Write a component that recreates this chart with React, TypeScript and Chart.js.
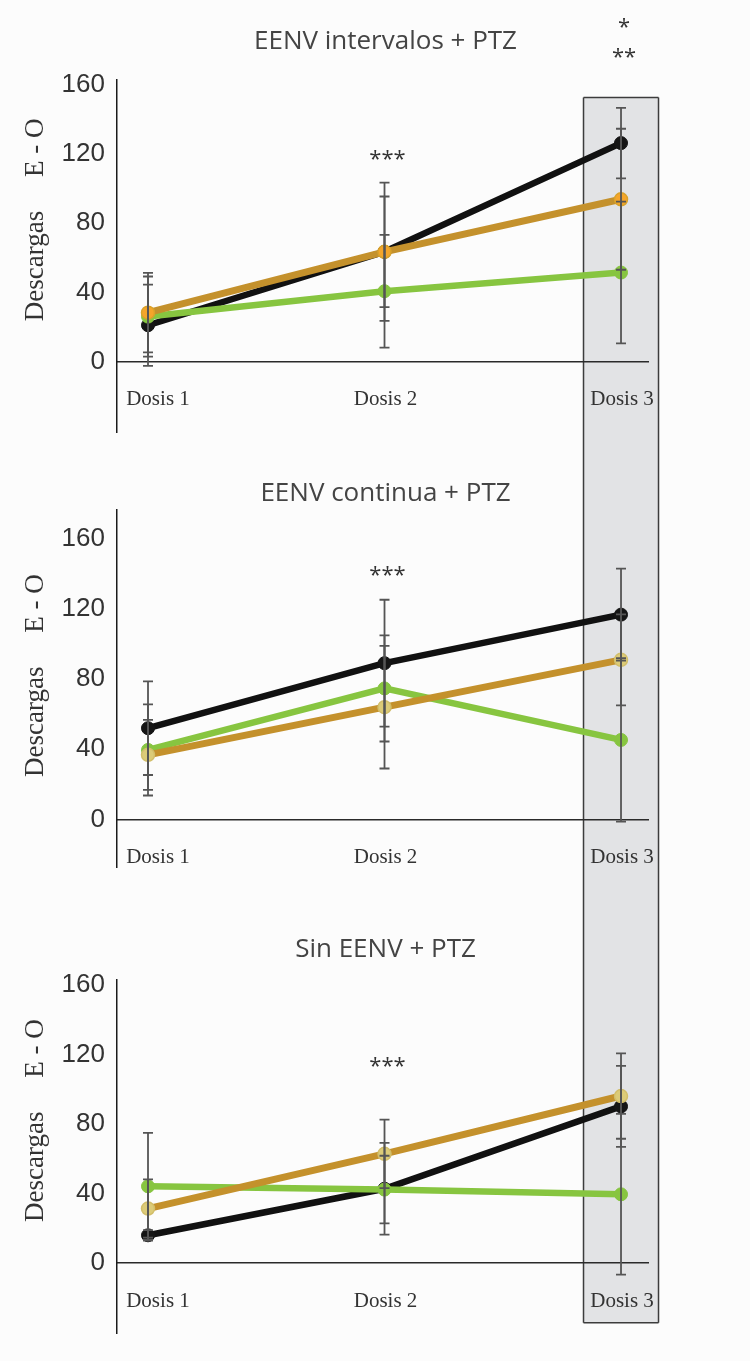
import React, { useEffect, useRef } from 'react';
import { Chart, registerables } from 'chart.js';

Chart.register(...registerables);

// ---------- data ----------
const categories = ['Dosis 1', 'Dosis 2', 'Dosis 3'];
const xValues = [1, 2, 3];
const yTickValues = [0, 40, 80, 120, 160];
const panelTitles = ['EENV intervalos + PTZ', 'EENV continua + PTZ', 'Sin EENV + PTZ'];
const yAxisTitle = 'Descargas     E - O';

// Panel 1: EENV intervalos + PTZ
const p1Black = [21, 63.5, 126.4];
const p1BlackErr = [23.5, 40, 20.4];
const p1Orange = [28.3, 63.5, 93.9];
const p1OrangeErr = [23, 32, 40.8];
const p1Green = [26, 40.7, 51.5];
const p1GreenErr = [23.2, 32.6, 41];
const p1Sig = [
  { text: '***', x: 2, y: 117 },
  { text: '*', x: 3, y: 193 },
  { text: '**', x: 3, y: 176 },
];

// Panel 2: EENV continua + PTZ
const p2Black = [52, 89.1, 116.8];
const p2BlackErr = [26.7, 36.2, 26.2];
const p2Orange = [36.8, 64, 91];
const p2OrangeErr = [20, 35, 26];
const p2Green = [39.6, 74.7, 45.3];
const p2GreenErr = [26, 30.3, 46.6];
const p2Sig = [{ text: '***', x: 2, y: 139 }];

// Panel 3: Sin EENV + PTZ
const p3Black = [16, 42.8, 90.2];
const p3BlackErr = [3, 26.4, 23.3];
const p3Orange = [31.4, 62.9, 96.2];
const p3OrangeErr = [16.8, 19.7, 24.6];
const p3Green = [44.2, 42.3, 39.6];
const p3GreenErr = [30.8, 19.5, 46.3];
const p3Sig = [{ text: '***', x: 2, y: 113 }];

const highlightCategory = 3;

// ---------- styles / layout ----------
const BLACK = '#111111';
const ORANGE_LINE = '#C4912C';
const GREEN = '#87C540';
const ERR = '#555555';
const TEXT = '#333333';

const panels = [
  {
    title: panelTitles[0], height: 460, top: 80, bottom: 22, yMin: -41, yMax: 162.9, titleY: 42,
    black: p1Black, blackErr: p1BlackErr, orange: p1Orange, orangeErr: p1OrangeErr,
    green: p1Green, greenErr: p1GreenErr, sig: p1Sig,
    orangePoint: '#F5A52A', orangePointBorder: '#D9A22A',
    boxTop: 152.8, boxBottom: null,
  },
  {
    title: panelTitles[1], height: 440, top: 50, bottom: 33, yMin: -27.2, yMax: 176.5, titleY: 34,
    black: p2Black, blackErr: p2BlackErr, orange: p2Orange, orangeErr: p2OrangeErr,
    green: p2Green, greenErr: p2GreenErr, sig: p2Sig,
    orangePoint: '#DCCB78', orangePointBorder: '#D2BE6A',
    boxTop: null, boxBottom: null,
  },
  {
    title: panelTitles[2], height: 461, top: 80, bottom: 24, yMin: -40.5, yMax: 163, titleY: 50,
    black: p3Black, blackErr: p3BlackErr, orange: p3Orange, orangeErr: p3OrangeErr,
    green: p3Green, greenErr: p3GreenErr, sig: p3Sig,
    orangePoint: '#DCCB78', orangePointBorder: '#D2BE6A',
    boxTop: null, boxBottom: -34.4,
  },
];

function PanelChart({ cfg }: { cfg: any }) {
  const ref = useRef<HTMLCanvasElement>(null);

  useEffect(() => {
    const canvas = ref.current;
    if (!canvas) return;

    const toXY = (vals: number[]) => vals.map((v, i) => ({ x: xValues[i], y: v }));

    const decor = {
      id: 'decor',
      beforeDraw(chart: any) {
        const { ctx } = chart;
        const xs = chart.scales.x;
        const ys = chart.scales.y;
        const cx = xs.getPixelForValue(highlightCategory);
        const half = 37.5;
        const top = cfg.boxTop !== null ? ys.getPixelForValue(cfg.boxTop) : -2;
        const bot = cfg.boxBottom !== null ? ys.getPixelForValue(cfg.boxBottom) : chart.height + 2;
        ctx.save();
        ctx.fillStyle = '#E2E3E5';
        ctx.fillRect(cx - half, top, half * 2, bot - top);
        ctx.strokeStyle = '#3C3C3C';
        ctx.lineWidth = 1.5;
        ctx.beginPath();
        ctx.moveTo(cx - half, top);
        ctx.lineTo(cx - half, bot);
        ctx.moveTo(cx + half, top);
        ctx.lineTo(cx + half, bot);
        if (cfg.boxTop !== null) {
          ctx.moveTo(cx - half, top);
          ctx.lineTo(cx + half, top);
        }
        if (cfg.boxBottom !== null) {
          ctx.moveTo(cx - half, bot);
          ctx.lineTo(cx + half, bot);
        }
        ctx.stroke();
        ctx.restore();
      },
      afterDatasetsDraw(chart: any) {
        const { ctx } = chart;
        const xs = chart.scales.x;
        const ys = chart.scales.y;
        const series = [
          [cfg.black, cfg.blackErr],
          [cfg.orange, cfg.orangeErr],
          [cfg.green, cfg.greenErr],
        ];
        ctx.save();
        ctx.strokeStyle = ERR;
        ctx.lineWidth = 1.8;
        series.forEach(([vals, errs]: any) => {
          vals.forEach((v: number, i: number) => {
            const x = xs.getPixelForValue(xValues[i]);
            const y1 = ys.getPixelForValue(v + errs[i]);
            const y2 = ys.getPixelForValue(v - errs[i]);
            ctx.beginPath();
            ctx.moveTo(x, y1);
            ctx.lineTo(x, y2);
            ctx.moveTo(x - 5, y1);
            ctx.lineTo(x + 5, y1);
            ctx.moveTo(x - 5, y2);
            ctx.lineTo(x + 5, y2);
            ctx.stroke();
          });
        });
        ctx.restore();
      },
      afterDraw(chart: any) {
        const { ctx, chartArea } = chart;
        const xs = chart.scales.x;
        const ys = chart.scales.y;
        ctx.save();
        // title
        ctx.fillStyle = '#444444';
        ctx.font = '26px "Open Sans"';
        ctx.textAlign = 'center';
        ctx.textBaseline = 'middle';
        ctx.fillText(cfg.title, (chartArea.left + chartArea.right) / 2 + 3, cfg.titleY);
        // category labels
        ctx.fillStyle = TEXT;
        ctx.font = '21px "Liberation Serif"';
        const zeroY = ys.getPixelForValue(0);
        categories.forEach((c, i) => {
          const dx = i === 0 ? 10 : 1;
          ctx.fillText(c, xs.getPixelForValue(xValues[i]) + dx, zeroY + 38);
        });
        // significance marks
        ctx.font = '22px "Open Sans"';
        cfg.sig.forEach((s: any) => {
          ctx.fillText(s.text, xs.getPixelForValue(s.x) + 3, ys.getPixelForValue(s.y));
        });
        // y title
        ctx.font = '27px "Liberation Serif"';
        ctx.translate(36, ys.getPixelForValue(82));
        ctx.rotate(-Math.PI / 2);
        ctx.fillText(yAxisTitle, 0, 0);
        ctx.restore();
      },
    };

    const chart = new Chart(canvas, {
      type: 'line',
      data: {
        datasets: [
          {
            label: 'orange',
            data: toXY(cfg.orange),
            borderColor: ORANGE_LINE,
            borderWidth: 7,
            pointRadius: 6.5,
            pointBackgroundColor: cfg.orangePoint,
            pointBorderColor: cfg.orangePointBorder,
            pointBorderWidth: 1.5,
            tension: 0,
          },
          {
            label: 'green',
            data: toXY(cfg.green),
            borderColor: GREEN,
            borderWidth: 6.5,
            pointRadius: 6.5,
            pointBackgroundColor: GREEN,
            pointBorderColor: GREEN,
            pointBorderWidth: 1,
            tension: 0,
          },
          {
            label: 'black',
            data: toXY(cfg.black),
            borderColor: BLACK,
            borderWidth: 6.5,
            pointRadius: 6.5,
            pointBackgroundColor: '#151515',
            pointBorderColor: '#151515',
            pointBorderWidth: 1,
            tension: 0,
          },
        ],
      },
      options: {
        responsive: false,
        animation: false,
        devicePixelRatio: 1,
        layout: { padding: { left: 0, right: 102, top: cfg.top, bottom: cfg.bottom } },
        plugins: { legend: { display: false }, tooltip: { enabled: false }, title: { display: false } },
        scales: {
          x: {
            type: 'linear',
            min: 0.8689,
            max: 3.1141,
            position: { y: 0 } as any,
            grid: { display: false, drawTicks: false },
            border: { display: true, color: '#2A2A2A', width: 1.5 },
            ticks: { display: false },
            afterBuildTicks: (s: any) => { s.ticks = xValues.map((v) => ({ value: v })); },
          },
          y: {
            type: 'linear',
            min: cfg.yMin,
            max: cfg.yMax,
            grid: { display: false, drawTicks: false },
            border: { display: true, color: '#1A1A1A', width: 1.5 },
            ticks: {
              color: TEXT,
              font: { family: '"Liberation Sans"', size: 26 },
              padding: 12,
            },
            afterBuildTicks: (s: any) => { s.ticks = yTickValues.map((v) => ({ value: v })); },
            afterFit: (s: any) => { s.width = 117; },
          },
        },
      },
      plugins: [decor],
    });

    return () => chart.destroy();
  }, [cfg]);

  return (
    <canvas
      ref={ref}
      width={750}
      height={cfg.height}
      style={{ display: 'block', width: 750, height: cfg.height }}
    />
  );
}

export default function App() {
  useEffect(() => {
    document.body.style.margin = '0';
    document.body.style.background = '#FCFCFC';
  }, []);
  return (
    <div style={{ width: 750, background: '#FCFCFC' }}>
      {panels.map((p, i) => (
        <PanelChart key={i} cfg={p} />
      ))}
    </div>
  );
}
